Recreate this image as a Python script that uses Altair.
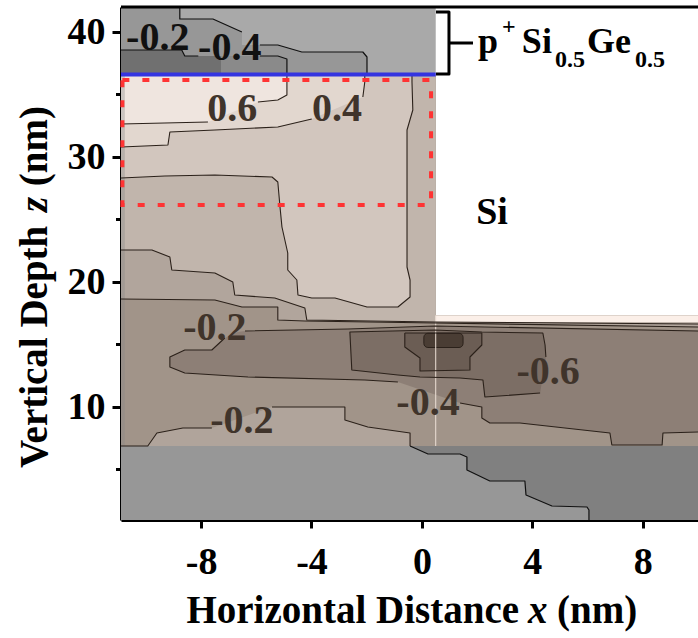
import altair as alt
import pandas as pd

FONT = "Liberation Serif"

# ---------------- axes ----------------
X_DOMAIN = [-10.9, 10.0]
Z_DOMAIN = [0.96, 42.0]
X_TICKS = [-8, -4, 0, 4, 8]
Z_TICKS = [10, 20, 30, 40]
Z_MINOR = [5, 15, 25, 35]

# ---------------- structure (nm) ----------------
X_LEFT, X_RIGHT = -10.9, 10.0
X_STEP = 0.5
Z_TOP = 42.0
Z_SI_TOP = 36.64
Z_BAND_TOP = 17.32
Z_BAND_BOT = 6.88
Z_BOTTOM = 0.96

# ---------------- SiGe cap contours ----------------
SIGE_B = [(-10.9, 42.0), (-8.77, 42.0), (-8.77, 41.04), (-7.57, 41.04), (-6.52, 40.0),
          (-6.52, 38.96), (-5.22, 38.96), (-4.35, 38.4), (-2.14, 38.4), (-1.99, 38.0),
          (-1.99, 36.64), (-10.9, 36.64)]
SIGE_C = [(-8.04, 38.08), (-5.22, 38.08), (-4.89, 37.84), (-4.89, 36.64), (-8.04, 36.64)]
SIGE_D = [(-10.9, 38.56), (-8.70, 38.56), (-8.59, 38.08), (-7.28, 38.08), (-7.28, 36.64),
          (-10.9, 36.64)]
SIGE_LINES = [
    [(-8.77, 42.0), (-8.77, 41.04), (-7.57, 41.04), (-6.52, 40.0)],
    [(-5.87, 38.96), (-5.22, 38.96), (-4.35, 38.4), (-2.14, 38.4), (-1.99, 38.0), (-1.99, 36.64)],
    [(-5.87, 38.08), (-5.22, 38.08), (-4.89, 37.84), (-4.89, 36.64)],
    [(-10.9, 38.56), (-8.70, 38.56), (-8.59, 38.08), (-8.1, 38.08)],
]

# ---------------- Si contours ----------------
SI_BASE = [(-10.9, 36.64), (0.5, 36.64), (0.5, 17.32), (10.0, 17.32), (10.0, 6.88), (-10.9, 6.88)]
TOP_CLOSE = [(10.0, 17.32), (0.5, 17.32), (0.5, 36.64), (-10.9, 36.64)]

F_LINE = [(-10.9, 18.64), (-7.5, 18.56), (-6.52, 18.0), (-5.22, 18.0), (-5.22, 16.96),
          (-4.24, 16.88), (0.47, 16.72), (10.0, 16.4)]
E_LINE = [(-10.9, 22.56), (-9.78, 22.56), (-9.13, 22.0), (-9.06, 20.96), (-7.5, 20.72),
          (-6.85, 20.0), (-6.78, 18.96), (-5.33, 18.72), (-4.24, 17.92), (-4.17, 16.96),
          (0.47, 16.8), (10.0, 16.64)]
CD_LINE = [(-10.9, 28.32), (-9.31, 28.48), (-7.5, 28.56), (-5.43, 28.4), (-5.22, 28.0),
           (-5.14, 26.0), (-5.07, 24.4), (-4.86, 22.32), (-4.86, 20.96), (-4.53, 20.16),
           (-4.49, 18.96), (-3.99, 18.72), (-3.15, 18.72), (-1.99, 18.0), (-0.87, 18.0),
           (-0.43, 18.8), (-0.43, 20.16), (-0.54, 21.2), (-0.54, 26.0), (-0.54, 32.16),
           (-0.33, 33.76), (-0.36, 36.0), (-0.36, 36.64)]
B_SEGS = [[(-10.9, 30.8), (-9.2, 30.96), (-9.13, 32.0), (-7.5, 32.16), (-5.22, 32.4), (-3.99, 33.04)],
          [(-2.14, 34.8), (-2.07, 36.0), (-2.07, 36.64)]]
A_SEGS = [[(-10.9, 32.64), (-7.75, 32.8)],
          [(-5.94, 34.4), (-5.22, 34.56), (-4.89, 34.96), (-4.89, 36.64)]]
H_SEGS = [[(-10.9, 6.88), (-9.93, 6.88), (-9.6, 7.92), (-8.66, 8.32), (-7.61, 8.32)],
          [(-5.43, 10.0), (-2.79, 10.0), (-2.79, 8.96), (-1.96, 8.4), (-0.43, 7.92), (-0.43, 6.88)]]
G_SEGS = [[(-6.41, 16.08), (-2.68, 16.24), (0.47, 16.48), (10.0, 16.08)],
          [(10.0, 8.0), (8.73, 7.92), (8.7, 6.96), (6.88, 6.96), (6.81, 7.92), (3.55, 8.72),
           (2.46, 8.72), (2.17, 9.12), (2.17, 10.0), (1.38, 10.32)],
          [(-0.87, 12.0), (-2.07, 12.16), (-6.3, 12.4), (-8.59, 12.72), (-9.13, 13.2),
           (-9.13, 14.0), (-8.59, 14.56), (-7.61, 14.56), (-7.14, 15.52)]]
G2_LINE = [(4.28, 11.12), (2.28, 10.8), (2.21, 12.16), (1.38, 12.32), (-0.07, 12.4),
           (-0.87, 12.56), (-2.54, 12.96), (-2.61, 16.0), (0.47, 16.16), (2.17, 16.0),
           (4.38, 15.92), (4.46, 14.96), (4.49, 14.0)]
G3_LINE = [(-0.62, 15.92), (2.17, 15.92), (2.17, 14.96), (1.74, 14.0), (1.74, 12.96),
           (-0.07, 12.88), (-0.07, 13.92), (-0.62, 14.8), (-0.62, 15.92)]
G4_BOX = (0.07, 1.49, 14.76, 15.9)
PEACH_BOX = (0.5, 10.0, 16.8, 17.32)

# substrate (bottom gray)
SUB_LINE = [(-0.43, 6.88), (0.22, 6.24), (1.38, 6.24), (1.63, 6.0), (1.63, 4.96), (2.46, 4.08),
            (3.73, 4.08), (3.77, 2.96), (4.71, 2.08), (5.98, 2.0), (6.05, 1.76), (6.05, 0.96)]

# highlighted box and interface
RED_BOX = (-10.85, 0.33, 26.16, 36.16)
BLUE_Z = 36.6

# labels
LABELS_SIGE = [("-0.2", -9.57, 39.56), ("-0.4", -6.96, 38.76)]
LABELS_SI = [("0.6", -6.87, 33.88), ("0.4", -3.08, 33.88), ("-0.2", -7.5, 16.32),
             ("-0.2", -6.52, 8.88), ("-0.4", 0.22, 10.32), ("-0.6", 4.57, 12.84)]

# colours
SIGE_COLORS = {"A": "#a9a9a9", "B": "#979797", "C": "#8a8a8a", "D": "#707070"}
SI_COLORS = {"p06": "#efe5df", "p04": "#e2d7cf", "p02": "#d2c6be", "z0": "#c1b5ac",
             "m02": "#b1a59c", "base": "#a19489", "m06": "#8d7f76", "m08": "#7c6e65",
             "m10": "#6b5d54", "m12": "#4a3d34", "H": "#b0a49b"}
PEACH = "#fbefe8"
SUB_LIGHT, SUB_DARK = "#979797", "#808080"
LINE_SI = "#2b211a"

XS = alt.Scale(domain=X_DOMAIN, nice=False, zero=False)
YS = alt.Scale(domain=Z_DOMAIN, nice=False, zero=False)

axis_style = dict(grid=False, title=None, labelFont=FONT, labelFontSize=38,
                  labelFontWeight="bold", labelColor="black", tickColor="black",
                  tickWidth=3, domainColor="black", domainWidth=3, labelOverlap=False,
                  labelFlush=False, labelExpr="'' + datum.value")
X_AXIS = alt.Axis(values=X_TICKS, tickSize=8, labelPadding=15, **axis_style)
Y_AXIS = alt.Axis(values=Z_TICKS, tickSize=9, labelPadding=7, **axis_style)


def X(field="x"):
    return alt.X(f"{field}:Q", scale=XS, axis=X_AXIS)


def Y(field="z"):
    return alt.Y(f"{field}:Q", scale=YS, axis=Y_AXIS)


def frame(points):
    return pd.DataFrame({"x": [p[0] for p in points], "z": [p[1] for p in points],
                         "i": list(range(len(points)))})


def polygon(points, color):
    return alt.Chart(frame(points)).mark_line(
        fill=color, strokeOpacity=0, interpolate="linear-closed", clip=True
    ).encode(x=X(), y=Y(), order="i:Q")


def lines(segments, color, width):
    rows = []
    for s, pts in enumerate(segments):
        for i, (x, z) in enumerate(pts):
            rows.append({"x": x, "z": z, "seg": s, "i": i})
    return alt.Chart(pd.DataFrame(rows)).mark_line(
        color=color, strokeWidth=width, clip=True, strokeJoin="round"
    ).encode(x=X(), y=Y(), detail="seg:N", order="i:Q")


def box(b, **kw):
    df = pd.DataFrame({"x": [b[0]], "x2": [b[1]], "z": [b[2]], "z2": [b[3]]})
    return alt.Chart(df).mark_rect(**kw).encode(x=X(), x2="x2:Q", y=Y(), y2="z2:Q")


def labels(items, color, size=40):
    df = pd.DataFrame({"t": [a[0] for a in items], "x": [a[1] for a in items],
                       "z": [a[2] for a in items]})
    return alt.Chart(df).mark_text(
        font=FONT, fontSize=size, fontWeight="bold", color=color, baseline="middle"
    ).encode(x=X(), y=Y(), text="t:N")


layers = [box((X_LEFT, X_STEP, Z_SI_TOP, Z_TOP), color=SIGE_COLORS["A"]),
          polygon(SIGE_B, SIGE_COLORS["B"]),
          polygon(SIGE_C, SIGE_COLORS["C"]),
          polygon(SIGE_D, SIGE_COLORS["D"]),
          lines(SIGE_LINES, "#111111", 1.2),
          # Si fin + band
          polygon(SI_BASE, SI_COLORS["base"]),
          polygon(F_LINE + TOP_CLOSE, SI_COLORS["m02"]),
          polygon(E_LINE + TOP_CLOSE, SI_COLORS["z0"]),
          polygon(CD_LINE + [(-10.9, 36.64)], SI_COLORS["p02"]),
          polygon(B_SEGS[0] + B_SEGS[1] + [(-10.9, 36.64)], SI_COLORS["p04"]),
          polygon(A_SEGS[0] + A_SEGS[1] + [(-10.9, 36.64)], SI_COLORS["p06"]),
          polygon(H_SEGS[0][1:] + H_SEGS[1], SI_COLORS["H"]),
          polygon(G_SEGS[0] + G_SEGS[1] + G_SEGS[2] + [(-6.67, 16.0)], SI_COLORS["m06"]),
          polygon(G2_LINE, SI_COLORS["m08"]),
          polygon(G3_LINE, SI_COLORS["m10"]),
          box(G4_BOX, color=SI_COLORS["m12"], cornerRadius=4, stroke=LINE_SI, strokeWidth=1),
          box(PEACH_BOX, color=PEACH),
          # substrate
          box((X_LEFT, X_RIGHT, Z_BOTTOM, Z_BAND_BOT), color=SUB_DARK),
          polygon([(X_LEFT, Z_BAND_BOT)] + SUB_LINE + [(X_LEFT, Z_BOTTOM)], SUB_LIGHT),
          lines([SUB_LINE], "#111111", 1.2),
          # faint strips
          box((X_LEFT, -10.76, Z_BAND_BOT, Z_SI_TOP), color="#888888", opacity=0.35),
          alt.Chart(pd.DataFrame({"x": [X_STEP], "z": [Z_BAND_BOT], "z2": [Z_BAND_TOP]}))
          .mark_rule(color="#eee0d6", strokeWidth=1).encode(x=X(), y=Y(), y2="z2:Q"),
          # contour lines
          lines([F_LINE, E_LINE, CD_LINE] + B_SEGS + A_SEGS + H_SEGS + G_SEGS
                + [G2_LINE, G3_LINE], LINE_SI, 1.1),
          # red dashed box
          box(RED_BOX, fillOpacity=0, stroke="#ff3333", strokeWidth=4, strokeDash=[7, 13]),
          # blue interface
          alt.Chart(pd.DataFrame({"x": [X_LEFT], "x2": [X_STEP], "z": [BLUE_Z]}))
          .mark_rule(color="#3434e0", strokeWidth=4).encode(x=X(), x2="x2:Q", y=Y()),
          labels(LABELS_SIGE, "#111111"),
          labels(LABELS_SI, "#40342b"),
          ]

# bracket and layer annotations
BRACKET = [[(0.51, 41.6), (0.98, 41.6), (0.98, 36.64), (0.51, 36.64)],
           [(0.98, 39.12), (1.85, 39.12)]]
layers.append(lines(BRACKET, "black", 3))

ANNOT_BIG = [("p", 2.03, 38.32), ("Si", 3.62, 38.32), ("Ge", 5.98, 38.32)]
ANNOT_SMALL = [("+", 2.90, 39.84), ("0.5", 4.82, 37.2), ("0.5", 7.72, 37.2)]
for items, size in [(ANNOT_BIG, 36), (ANNOT_SMALL, 24)]:
    df = pd.DataFrame({"t": [a[0] for a in items], "x": [a[1] for a in items],
                       "z": [a[2] for a in items]})
    layers.append(alt.Chart(df).mark_text(
        font=FONT, fontSize=size, fontWeight="bold", color="black",
        align="left", baseline="alphabetic").encode(x=X(), y=Y(), text="t:N"))

SI_LABEL = [("Si", 2.54, 25.52)]
layers.append(labels(SI_LABEL, "black", 38))

# minor y ticks and top frame
layers.append(alt.Chart(pd.DataFrame({"z": Z_MINOR})).mark_rule(color="black", strokeWidth=3)
              .encode(y=Y(), x=alt.value(-5), x2=alt.value(0)))
layers.append(alt.Chart(pd.DataFrame({"z": [Z_TOP]})).mark_rule(color="black", strokeWidth=3)
              .encode(y=Y(), x=alt.value(0), x2=alt.value(577)))

# axis titles with italic variable
one = pd.DataFrame({"a": [0]})
tstyle = dict(font=FONT, fontSize=39, fontWeight="bold", color="black", baseline="alphabetic")
layers += [
    alt.Chart(one).mark_text(text="Horizontal Distance", align="right", **tstyle)
    .encode(x=alt.value(398), y=alt.value(616)),
    alt.Chart(one).mark_text(text="x", align="left", fontStyle="italic", **tstyle)
    .encode(x=alt.value(407), y=alt.value(616)),
    alt.Chart(one).mark_text(text="(nm)", align="left", **tstyle)
    .encode(x=alt.value(436), y=alt.value(616)),
    alt.Chart(one).mark_text(text="Vertical Depth", align="left", angle=270, **tstyle)
    .encode(x=alt.value(-74), y=alt.value(461)),
    alt.Chart(one).mark_text(text="z", align="left", angle=270, fontStyle="italic", **tstyle)
    .encode(x=alt.value(-74), y=alt.value(205)),
    alt.Chart(one).mark_text(text="(nm)", align="right", angle=270, **tstyle)
    .encode(x=alt.value(-74), y=alt.value(99)),
]

chart = alt.layer(*layers).properties(
    width=577, height=513,
    padding={"left": 121, "top": 7, "right": 0, "bottom": 118},
    autosize=alt.AutoSizeParams(type="none"),
).configure_view(strokeWidth=0)

chart.save("out.html", embed_options={"renderer": "svg", "actions": False})
